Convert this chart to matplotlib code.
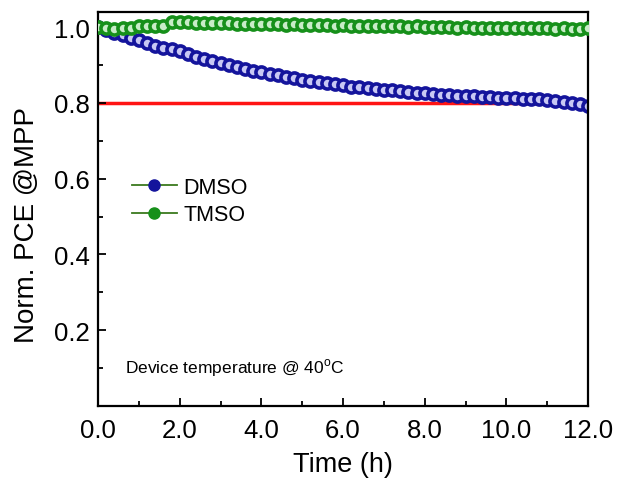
import numpy as np
import matplotlib
matplotlib.use("Agg")
import matplotlib.pyplot as plt
from matplotlib.lines import Line2D
from matplotlib.ticker import MultipleLocator

plt.rcParams['font.family'] = ['Liberation Sans', 'DejaVu Sans']
plt.rcParams['mathtext.fontset'] = 'custom'
plt.rcParams['mathtext.rm'] = 'Liberation Sans'

# Datos (horas, PCE normalizada)
time_h = np.round(np.arange(61) * 0.2, 1)
dmso = [1.000, 0.992, 0.985, 0.978, 0.972, 0.966, 0.958, 0.951, 0.946, 0.941,
        0.936, 0.930, 0.922, 0.916, 0.911, 0.906, 0.900, 0.895, 0.890, 0.885,
        0.881, 0.877, 0.873, 0.869, 0.865, 0.861, 0.858, 0.855, 0.852, 0.849,
        0.846, 0.843, 0.841, 0.839, 0.837, 0.835, 0.833, 0.831, 0.829, 0.827,
        0.825, 0.823, 0.821, 0.820, 0.819, 0.818, 0.817, 0.816, 0.815, 0.814,
        0.813, 0.812, 0.811, 0.810, 0.809, 0.808, 0.806, 0.803, 0.800, 0.796,
        0.792]
tmso = [1.000, 0.997, 0.996, 0.997, 0.998, 1.003, 1.004, 1.003, 1.002, 1.013,
        1.014, 1.013, 1.012, 1.011, 1.010, 1.011, 1.010, 1.009, 1.008, 1.009,
        1.008, 1.007, 1.007, 1.006, 1.007, 1.006, 1.005, 1.006, 1.005, 1.004,
        1.005, 1.004, 1.003, 1.004, 1.003, 1.002, 1.003, 1.002, 1.001, 1.002,
        1.001, 1.000, 1.001, 1.000, 0.999, 1.000, 0.999, 0.998, 0.999, 0.998,
        0.997, 0.998, 0.997, 0.997, 0.998, 0.997, 0.996, 0.997, 0.996, 0.996,
        0.997]
threshold = 0.8

blue = '#14149c'
green = '#16901a'

fig = plt.figure(figsize=(6.17, 4.81), dpi=100)
ax = fig.add_axes([0.159, 0.154, 0.794, 0.819])

ax.axhline(threshold, color='#ff1414', lw=2.5, zorder=1)
ax.plot(time_h, dmso, 'o', ms=8, mfc='#c8c8f4', mec=blue, mew=2.6, zorder=2)
ax.plot(time_h, tmso, 'o', ms=8, mfc='#c8ecc8', mec=green, mew=2.6, zorder=3)

ax.set_xlim(0, 12)
ax.set_ylim(0, 1.04)
ax.xaxis.set_major_locator(MultipleLocator(2))
ax.xaxis.set_minor_locator(MultipleLocator(1))
ax.set_yticks([0.2, 0.4, 0.6, 0.8, 1.0])
ax.yaxis.set_minor_locator(MultipleLocator(0.1))
ax.xaxis.set_major_formatter(plt.FormatStrFormatter('%.1f'))
ax.yaxis.set_major_formatter(plt.FormatStrFormatter('%.1f'))
ax.tick_params(which='both', direction='in', width=1.3, labelsize=18.5)
ax.tick_params(axis='x', which='major', pad=9)
ax.tick_params(axis='y', which='major', pad=6)
ax.tick_params(which='major', length=6)
ax.tick_params(which='minor', length=3.5)
for s in ax.spines.values():
    s.set_linewidth(1.6)

ax.set_xlabel('Time (h)', fontsize=19.5, labelpad=6)
ax.set_ylabel('Norm. PCE @MPP', fontsize=20)
ax.yaxis.set_label_coords(-0.118, 0.462)

ax.text(0.66, 0.103, r'Device temperature @ 40$^{\mathrm{o}}$C', fontsize=12.5,
        va='center')

handles = [
    Line2D([], [], color='#3a7a1e', lw=1.3, marker='o', ms=8, mfc=blue, mec=blue),
    Line2D([], [], color='#3a7a1e', lw=1.3, marker='o', ms=8, mfc=green, mec=green),
]
ax.legend(handles, ['DMSO', 'TMSO'], loc='center left', bbox_to_anchor=(0.029, 0.52),
          frameon=False, fontsize=15.5, handlelength=2.1, handletextpad=0.3,
          labelspacing=0.3)

fig.savefig('out.png', dpi=100)
